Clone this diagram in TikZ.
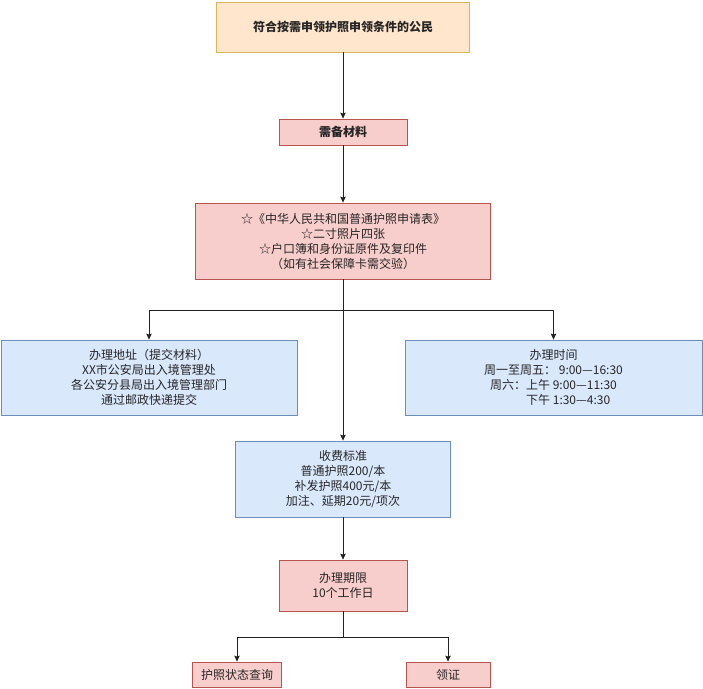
\documentclass[tikz,border=0pt]{standalone}
\usepackage{fontspec}
\setmainfont{Noto Sans CJK SC}
\usetikzlibrary{arrows.meta}
\definecolor{orfill}{HTML}{FFE6CC}
\definecolor{ordraw}{HTML}{D6B656}
\definecolor{rdfill}{HTML}{F8CECC}
\definecolor{rddraw}{HTML}{B85450}
\definecolor{blfill}{HTML}{DAE8FC}
\definecolor{bldraw}{HTML}{6C8EBF}
\definecolor{lncol}{HTML}{222222}
\begin{document}
\begin{tikzpicture}[x=1pt,y=-1pt,
  box/.style={draw, line width=0.8pt, inner sep=0pt, align=center,
    font=\fontsize{12}{15}\selectfont, text=black!85},
  orbox/.style={box, fill=orfill, draw=ordraw},
  rdbox/.style={box, fill=rdfill, draw=rddraw},
  blbox/.style={box, fill=blfill, draw=bldraw},
  arr/.style={draw=lncol, line width=0.8pt, -{Stealth[length=6pt,width=5.5pt,inset=1pt]}},
  ln/.style={draw=lncol, line width=0.8pt}]
\useasboundingbox (0,0) rectangle (703,688);
\node[orbox, minimum width=253pt, minimum height=50pt, font=\fontsize{12}{15}\selectfont\bfseries] (n1) at (343,27) {符合按需申领护照申领条件的公民};
\node[rdbox, minimum width=128pt, minimum height=26pt, font=\fontsize{12}{15}\selectfont\bfseries] (n2) at (343,132) {需备材料};
\node[rdbox, minimum width=295pt, minimum height=76pt] (n3) at (343,241) {☆《中华人民共和国普通护照申请表》\\☆二寸照片四张\\☆户口簿和身份证原件及复印件\\（如有社会保障卡需交验）};
\node[blbox, minimum width=296pt, minimum height=75pt] (nL) at (149,377.5) {办理地址（提交材料）\\XX市公安局出入境管理处\\各公安分县局出入境管理部门\\通过邮政快递提交};
\node[blbox, minimum width=297pt, minimum height=75pt] (nR) at (553.5,377.5) {办理时间\\周一至周五：\ 9:00—16:30\\周六：上午 9:00—11:30\\\phantom{周六：}下午 1:30—4:30\phantom{1}};
\node[blbox, minimum width=215pt, minimum height=76pt] (nF) at (343,479) {收费标准\\普通护照200/本\\补发护照400元/本\\加注、延期20元/项次};
\node[rdbox, minimum width=128pt, minimum height=51pt] (nP) at (343,585.5) {办理期限\\10个工作日};
\node[rdbox, minimum width=89pt, minimum height=25pt] (nBL) at (237,674.5) {护照状态查询};
\node[rdbox, minimum width=84pt, minimum height=25pt] (nBR) at (448,674.5) {领证};
\coordinate (b1) at (343,310);
\coordinate (b2) at (343,637);
\draw[arr] (n1) -- (n2);
\draw[arr] (n2) -- (n3);
\draw[arr] (n3) -- (nF);
\draw[arr] (b1) -| (nL);
\draw[arr] (b1) -| (nR);
\draw[arr] (nF) -- (nP);
\draw[ln] (nP) -- (b2);
\draw[arr] (b2) -| (nBL);
\draw[arr] (b2) -| (nBR);
\end{tikzpicture}
\end{document}
